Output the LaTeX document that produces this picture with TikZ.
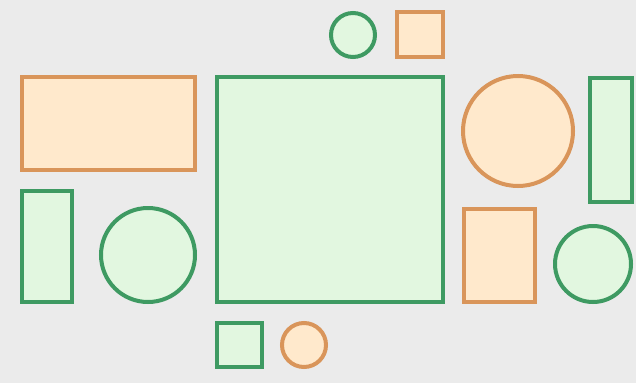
\documentclass[tikz,border=0pt]{standalone}
\definecolor{bg}{HTML}{EBEBEB}
\definecolor{gstroke}{HTML}{3E9A62}
\definecolor{gfill}{HTML}{E2F7E0}
\definecolor{ostroke}{HTML}{D9955A}
\definecolor{ofill}{HTML}{FFE9CC}
\tikzset{
  gshape/.style={draw=gstroke, fill=gfill, line width=4pt},
  oshape/.style={draw=ostroke, fill=ofill, line width=4pt}
}
\begin{document}
\begin{tikzpicture}[x=1pt,y=-1pt]
\fill[bg] (0,0) rectangle (636,383);
\useasboundingbox (0,0) rectangle (636,383);
% top row
\path[gshape] (353,35) circle (22);
\path[oshape] (397,12) rectangle (443,57);
% left
\path[oshape] (22,77) rectangle (195,170);
\path[gshape] (22,191) rectangle (72,302);
\path[gshape] (148,255) circle (47);
% center
\path[gshape] (217,77) rectangle (443,302);
% right
\path[oshape] (518,131) circle (55);
\path[gshape] (590,78) rectangle (632,202);
\path[oshape] (464,209) rectangle (535,302);
\path[gshape] (593,264) circle (38);
% bottom
\path[gshape] (217,323) rectangle (262,367);
\path[oshape] (304,345) circle (22);
\end{tikzpicture}
\end{document}
